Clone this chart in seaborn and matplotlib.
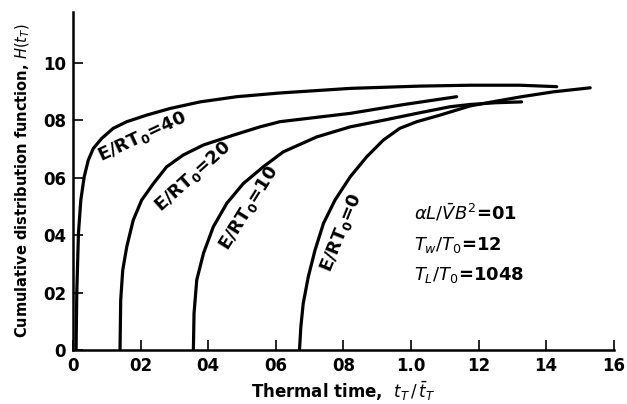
import matplotlib
matplotlib.use("Agg")
import matplotlib.pyplot as plt
import pandas as pd
import seaborn as sns

# curves, one per E/RT0 value
x_40 = [0.009, 0.011, 0.016, 0.023, 0.033, 0.045, 0.060, 0.085, 0.119, 0.159, 0.218, 0.287,
        0.376, 0.484, 0.612, 0.82, 1.027, 1.175, 1.322, 1.431]
y_40 = [0.0, 0.198, 0.407, 0.522, 0.603, 0.661, 0.702, 0.737, 0.772, 0.795, 0.818, 0.841,
        0.864, 0.882, 0.895, 0.911, 0.919, 0.922, 0.922, 0.917]

x_20 = [0.139, 0.141, 0.147, 0.159, 0.178, 0.203, 0.238, 0.277, 0.326, 0.386, 0.474, 0.553,
        0.612, 0.82, 0.98, 1.135]
y_20 = [0.0, 0.174, 0.278, 0.36, 0.452, 0.522, 0.580, 0.638, 0.679, 0.714, 0.748, 0.777,
        0.795, 0.824, 0.855, 0.882]

x_10 = [0.356, 0.358, 0.366, 0.386, 0.415, 0.455, 0.504, 0.563, 0.622, 0.721, 0.82, 0.918,
        1.017, 1.115, 1.175, 1.25, 1.327]
y_10 = [0.0, 0.128, 0.244, 0.337, 0.429, 0.511, 0.580, 0.638, 0.690, 0.742, 0.777, 0.80,
        0.824, 0.847, 0.855, 0.861, 0.864]

x_0 = [0.670, 0.674, 0.681, 0.696, 0.716, 0.741, 0.775, 0.82, 0.869, 0.918, 0.967, 1.017,
       1.086, 1.175, 1.25, 1.327, 1.421, 1.53]
y_0 = [0.0, 0.081, 0.162, 0.255, 0.348, 0.441, 0.522, 0.603, 0.673, 0.731, 0.772, 0.795,
       0.818, 0.850, 0.866, 0.882, 0.899, 0.913]

curve_names = ["40", "20", "10", "0"]

x_ticks = [0, 0.2, 0.4, 0.6, 0.8, 1.0, 1.2, 1.4, 1.6]
x_tick_labels = ["0", "02", "04", "06", "08", "1.0", "12", "14", "16"]
y_ticks = [0, 0.2, 0.4, 0.6, 0.8, 1.0]
y_tick_labels = ["0", "02", "04", "06", "08", "10"]

frames = []
for name, xs, ys in zip(curve_names, [x_40, x_20, x_10, x_0], [y_40, y_20, y_10, y_0]):
    frames.append(pd.DataFrame({"t": xs, "H": ys, "curve": name}))
df = pd.concat(frames, ignore_index=True)

sns.set_style("ticks")
plt.rcParams["font.family"] = ["DejaVu Sans"]
plt.rcParams["mathtext.fontset"] = "dejavusans"
plt.rcParams["text.color"] = "black"
plt.rcParams["axes.labelcolor"] = "black"

fig = plt.figure(figsize=(6.27, 4.04), dpi=100)
ax = fig.add_axes([0.1165, 0.1337, 0.8625, 0.8373])

sns.lineplot(data=df, x="t", y="H", units="curve", estimator=None, sort=False,
             color="black", linewidth=2.3, ax=ax)
for ln in ax.get_lines():
    ln.set_solid_joinstyle("round")

ax.set_xlim(0, 1.6)
ax.set_ylim(0, 1.178)
ax.set_xticks(x_ticks)
ax.set_xticklabels(x_tick_labels, fontweight="bold")
ax.set_yticks(y_ticks)
ax.set_yticklabels(y_tick_labels, fontweight="bold")
ax.tick_params(direction="in", length=7, width=1.2, labelsize=12, pad=5, colors="black")
sns.despine(ax=ax)
for side in ["left", "bottom"]:
    ax.spines[side].set_linewidth(1.8)
    ax.spines[side].set_color("black")

ax.set_xlabel(r"Thermal time,  $t_T\,/\,\bar{t}_T$", fontsize=12, fontweight="bold", labelpad=3)
ax.set_ylabel(r"Cumulative distribution function, $H(t_T)$", fontsize=10.5, fontweight="bold", labelpad=8)

# curve labels
label_pos = [(0.205, 0.742, 25), (0.355, 0.603, 42), (0.52, 0.495, 58), (0.795, 0.41, 68)]
for name, (lx, ly, rot) in zip(curve_names, label_pos):
    ax.text(lx, ly, r"E/RT$_\mathregular{0}$=" + name, rotation=rot, ha="center", va="center",
            fontsize=13, fontweight="bold", rotation_mode="anchor")

# parameter block
ax.text(1.01, 0.477, r"$\alpha L/\bar{V}B^2$=01", fontsize=13, fontweight="bold", va="center")
ax.text(1.01, 0.366, r"$T_w/T_0$=12", fontsize=13, fontweight="bold", va="center")
ax.text(1.01, 0.261, r"$T_L/T_0$=1048", fontsize=13, fontweight="bold", va="center")

fig.savefig("out.png", dpi=100)
